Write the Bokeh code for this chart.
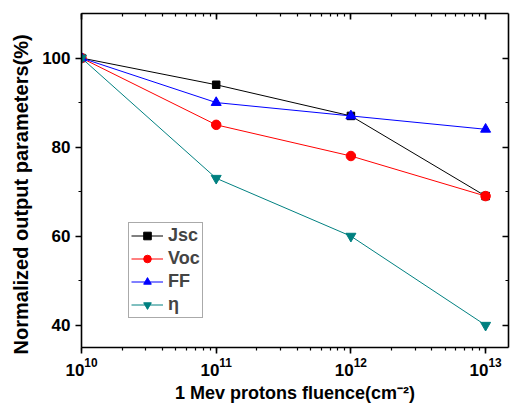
from bokeh.plotting import figure
from bokeh.models import (Range1d, LogAxis, LinearAxis, FixedTicker, LogTicker,
                          Legend, LegendItem)
from bokeh.embed import file_html
from bokeh.resources import INLINE

fluence = [1e10, 1e11, 1e12, 1e13]
jsc = [100, 94, 87, 69]
voc = [100, 85, 78, 69]
ff = [100, 90, 87, 84]
eta = [100, 73, 60, 40]

y_major = [40, 60, 80, 100]
y_minor = [50, 70, 90]

FONT = "Liberation Sans"

p = figure(width=510, height=408, output_backend="svg", toolbar_location=None,
           x_axis_type="log", x_range=Range1d(1e10, 10**13.17),
           y_range=Range1d(35, 110),
           min_border_left=81, min_border_right=2, min_border_top=13,
           min_border_bottom=61, x_axis_label="1 Mev protons fluence(cm⁻²)",
           y_axis_label="Normalized output parameters(%)" + "\u00a0" * 5)
p.xgrid.visible = False
p.ygrid.visible = False
p.outline_line_color = None
p.background_fill_color = "white"

p.xaxis.ticker = LogTicker(desired_num_ticks=4, num_minor_ticks=10)
p.yaxis.ticker = FixedTicker(ticks=y_major, minor_ticks=y_minor)

for ax in [p.xaxis[0], p.yaxis[0]]:
    ax.axis_line_width = 1.6
    ax.major_tick_line_width = 1.6
    ax.minor_tick_line_width = 1.2
    ax.major_tick_out = 6
    ax.major_tick_in = 0
    ax.minor_tick_out = 3
    ax.minor_tick_in = 0
    ax.major_label_text_font = FONT
    ax.major_label_text_font_style = "bold"
    ax.major_label_text_font_size = "17px"
    ax.major_label_text_color = "black"
    ax.axis_label_text_font = FONT
    ax.axis_label_text_font_style = "bold"
    ax.axis_label_text_color = "black"
p.xaxis.axis_label_text_font_size = "18px"
p.yaxis.axis_label_text_font_size = "20px"
p.xaxis.axis_label_standoff = 4
p.xaxis.major_label_standoff = 4
p.yaxis.axis_label_standoff = 7
p.yaxis.major_label_standoff = 5

top = LogAxis(ticker=LogTicker(desired_num_ticks=4, num_minor_ticks=10))
right = LinearAxis(ticker=FixedTicker(ticks=y_major, minor_ticks=y_minor))
for ax in [top, right]:
    ax.axis_line_width = 1.6
    ax.major_tick_line_width = 1.6
    ax.minor_tick_line_width = 1.2
    ax.major_tick_out = 0
    ax.major_tick_in = 6
    ax.minor_tick_out = 0
    ax.minor_tick_in = 3
    ax.major_label_standoff = 0
    ax.major_label_text_font_size = "0px"
    ax.major_label_text_alpha = 0
p.add_layout(top, "above")
p.add_layout(right, "right")

series = [("Jsc", jsc, "black", "square", 7.5),
          ("Voc", voc, "red", "circle", 9.5),
          ("FF", ff, "blue", "triangle", 10),
          ("η", eta, "#008080", "inverted_triangle", 10)]
items = []
for name, vals, color, marker, sz in series:
    ln = p.line(fluence, vals, line_color=color, line_width=1)
    sc = p.scatter(fluence, vals, marker=marker, size=sz, fill_color=color,
                   line_color=color)
    items.append(LegendItem(label=name, renderers=[ln, sc]))

legend = Legend(items=items, location=(47, 29))
legend.label_text_font = FONT
legend.label_text_font_style = "bold"
legend.label_text_font_size = "18px"
legend.label_standoff = 5
legend.glyph_width = 32
legend.glyph_height = 19
legend.label_height = 19
legend.spacing = 2
legend.padding = 2
legend.margin = 0
legend.border_line_color = "#555555"
legend.border_line_width = 1.2
legend.background_fill_alpha = 1
p.add_layout(legend, "center")

open("out.html", "w").write(file_html(p, INLINE))
